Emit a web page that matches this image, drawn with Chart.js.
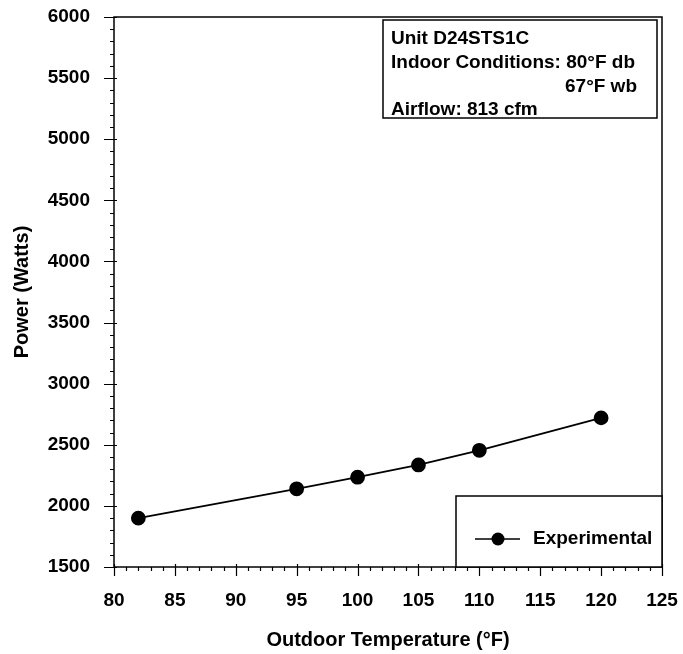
<!DOCTYPE html>
<html>
<head>
<meta charset="utf-8">
<script src="https://cdn.jsdelivr.net/npm/chart.js@4/dist/chart.umd.min.js"></script>
<style>
  html, body { margin: 0; padding: 0; background: #fff; }
  #wrap { width: 683px; height: 654px; }
</style>
</head>
<body>
<div id="wrap"><canvas id="powerChart" width="683" height="654"></canvas></div>
<script>
// outdoor temperature (F) and measured power (W)
const outdoorTemp = [82, 95, 100, 105, 110, 120];
const powerWatts = [1900, 2140, 2235, 2335, 2455, 2720];
const seriesName = 'Experimental';
const unitNotes = ['Unit D24STS1C', 'Indoor Conditions: 80°F db', '67°F wb', 'Airflow: 813 cfm'];

const FONT = 'Arial, "Liberation Sans", sans-serif';

// box around plot + hand drawn major/minor ticks
const frameAndTicks = {
  id: 'frameAndTicks',
  afterDraw(chart) {
    const ctx = chart.ctx, a = chart.chartArea;
    const xs = chart.scales.x, ys = chart.scales.y;
    ctx.save();
    ctx.strokeStyle = '#000';
    ctx.lineWidth = 1.5;
    ctx.strokeRect(a.left, a.top, a.right - a.left, a.bottom - a.top);
    ctx.lineWidth = 1.2;
    ctx.beginPath();
    for (let v = 1500; v <= 6000; v += 100) {
      const y = Math.round(ys.getPixelForValue(v)) + 0.5;
      const major = v % 500 === 0;
      ctx.moveTo(a.left - (major ? 10 : 4), y);
      ctx.lineTo(a.left + (major ? 3 : 0), y);
    }
    for (let v = 80; v <= 125; v += 1) {
      const x = Math.round(xs.getPixelForValue(v)) + 0.5;
      const major = v % 5 === 0;
      ctx.moveTo(x, a.bottom - (major ? 3 : 0));
      ctx.lineTo(x, a.bottom + (major ? 9 : 4));
    }
    ctx.stroke();
    ctx.restore();
  }
};

// unit info box (top right) and legend box (bottom right)
const boxes = {
  id: 'boxes',
  afterDraw(chart) {
    const ctx = chart.ctx, a = chart.chartArea;
    ctx.save();
    ctx.strokeStyle = '#000';
    ctx.lineWidth = 1.5;
    ctx.font = 'bold 19px ' + FONT;
    ctx.textBaseline = 'middle';

    // info box
    const bx = 383, by = a.top + 3, bw = a.right - 5 - bx, bh = 98;
    ctx.fillStyle = '#fff';
    ctx.fillRect(bx, by, bw, bh);
    ctx.strokeRect(bx, by, bw, bh);
    ctx.fillStyle = '#000';
    ctx.textAlign = 'left';
    ctx.fillText(unitNotes[0], bx + 8, by + 19);
    ctx.fillText(unitNotes[1], bx + 8, by + 43);
    ctx.textAlign = 'right';
    ctx.fillText(unitNotes[2], bx + 254, by + 67);
    ctx.textAlign = 'left';
    ctx.fillText(unitNotes[3], bx + 8, by + 90);

    // legend box
    const lx = 456, ly = 496;
    ctx.fillStyle = '#fff';
    ctx.fillRect(lx, ly, a.right - lx, a.bottom - ly);
    ctx.strokeRect(lx, ly, a.right - lx, a.bottom - ly);
    const my = 539;
    ctx.beginPath();
    ctx.moveTo(475, my);
    ctx.lineTo(520, my);
    ctx.stroke();
    ctx.fillStyle = '#000';
    ctx.beginPath();
    ctx.arc(498, my, 6.5, 0, Math.PI * 2);
    ctx.fill();
    ctx.fillText(seriesName, 533, my);
    ctx.restore();
  }
};

const plainNumber = v => String(v);

new Chart(document.getElementById('powerChart'), {
  type: 'scatter',
  data: {
    datasets: [{
      label: seriesName,
      data: outdoorTemp.map((t, i) => ({ x: t, y: powerWatts[i] })),
      showLine: true,
      borderColor: '#000',
      borderWidth: 1.8,
      backgroundColor: '#000',
      pointRadius: 6.5,
      pointHoverRadius: 6.5,
      tension: 0
    }]
  },
  options: {
    responsive: false,
    animation: false,
    events: [],
    layout: { padding: { top: 17, right: 21, left: 0, bottom: 0 } },
    plugins: {
      legend: { display: false },
      tooltip: { enabled: false }
    },
    scales: {
      x: {
        type: 'linear',
        min: 80, max: 125,
        // tick marks come from the plugin; tickLength only spaces the labels
        grid: { display: false, drawTicks: true, tickLength: 19 },
        border: { display: false },
        ticks: {
          stepSize: 5, padding: 3, color: '#000', maxRotation: 0,
          callback: plainNumber,
          font: { family: FONT, size: 19, weight: 'bold' }
        },
        title: {
          display: true, text: 'Outdoor Temperature (°F)', color: '#000',
          font: { family: FONT, size: 20, weight: 'bold' },
          padding: { top: 0, bottom: 2 }
        },
        afterFit(scale) { scale.height = 87; }
      },
      y: {
        type: 'linear',
        min: 1500, max: 6000,
        grid: { display: false, drawTicks: true, tickLength: 21 },
        border: { display: false },
        ticks: {
          stepSize: 500, padding: 3, color: '#000',
          callback: plainNumber,
          font: { family: FONT, size: 19, weight: 'bold' }
        },
        title: {
          display: true, text: 'Power (Watts)', color: '#000',
          font: { family: FONT, size: 20, weight: 'bold' },
          padding: { top: 10, bottom: 0 }
        },
        afterFit(scale) { scale.width = 114; }
      }
    }
  },
  plugins: [frameAndTicks, boxes]
});
</script>
</body>
</html>
